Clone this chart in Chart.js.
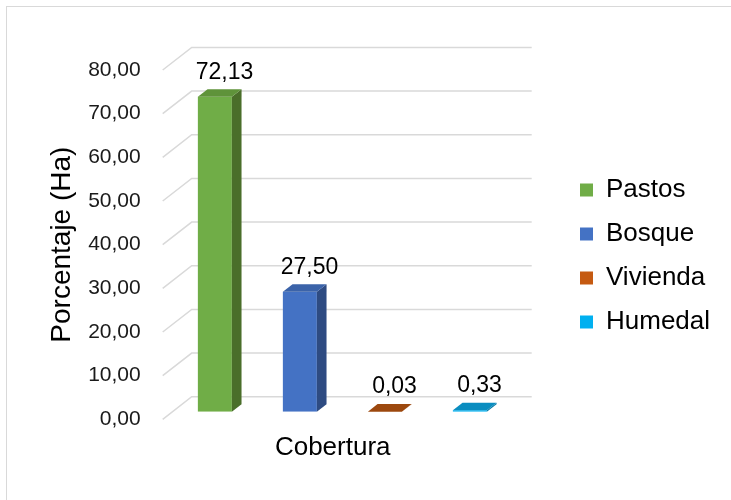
<!DOCTYPE html>
<html>
<head>
<meta charset="utf-8">
<script src="https://cdn.jsdelivr.net/npm/chart.js@4.4.1/dist/chart.umd.min.js"></script>
<style>
  body { margin: 0; overflow: hidden; background: #fff; }
  #frame { position: absolute; left: 6px; top: 6px; width: 900px; height: 700px; border: 1.5px solid #d9d9d9; }
  #wrap { position: absolute; left: 0; top: 0; width: 731px; height: 500px; }
</style>
</head>
<body>
<div id="frame"></div>
<div id="wrap"><canvas id="chart"></canvas></div>
<script>
// data
const categories = ['Pastos', 'Bosque', 'Vivienda', 'Humedal']
const values = [72.13, 27.50, 0.03, 0.33]
const yTicks = [0, 10, 20, 30, 40, 50, 60, 70, 80]

// colours for each bar: front, top, side
const frontColors = ['#70ad47', '#4472c4', '#c55a11', '#00b0f0']
const topColors = ['#5f933a', '#3b63a9', '#9c480e', '#0a8dc0']
const sideColors = ['#4a6e2a', '#2e4b82', '#7e3a0b', '#077aa6']

// depth of the 3d box (front plane -> back wall)
const DX = 29, DY = -22.6
const fmt = v => v.toFixed(2).replace('.', ',')
const FONT = '"Liberation Sans", Arial, sans-serif'

const box3d = {
  id: 'box3d',
  beforeDatasetsDraw(chart) {
    const {ctx, chartArea: a, scales: {y}} = chart
    ctx.save()
    ctx.strokeStyle = '#d9d9d9'
    ctx.lineWidth = 1.5
    yTicks.forEach(t => {
      const py = y.getPixelForValue(t)
      ctx.beginPath()
      ctx.moveTo(a.left, py)
      ctx.lineTo(a.left + DX, py + DY)
      ctx.lineTo(a.right + DX, py + DY)
      ctx.stroke()
    })
    ctx.restore()
    // bars stand a third of the way in
    ctx.save()
    ctx.translate(DX / 3, DY / 3)
  },
  afterDatasetsDraw(chart) {
    const {ctx} = chart
    const sdx = DX / 3, sdy = DY / 3
    chart.getDatasetMeta(0).data.forEach((bar, i) => {
      const {x, y, base, width} = bar.getProps(['x', 'y', 'base', 'width'], true)
      const x0 = x - width / 2, x1 = x + width / 2
      // side
      ctx.fillStyle = sideColors[i]
      ctx.beginPath()
      ctx.moveTo(x1, y)
      ctx.lineTo(x1 + sdx, y + sdy)
      ctx.lineTo(x1 + sdx, base + sdy)
      ctx.lineTo(x1, base)
      ctx.closePath()
      ctx.fill()
      // top
      ctx.fillStyle = topColors[i]
      ctx.beginPath()
      ctx.moveTo(x0, y)
      ctx.lineTo(x1, y)
      ctx.lineTo(x1 + sdx, y + sdy)
      ctx.lineTo(x0 + sdx, y + sdy)
      ctx.closePath()
      ctx.fill()
      // value label
      ctx.fillStyle = '#000'
      ctx.font = '23px ' + FONT
      ctx.textAlign = 'center'
      ctx.textBaseline = 'middle'
      ctx.fillText(fmt(values[i]), x + sdx, y + sdy - 17)
    })
    ctx.restore()
  }
}

new Chart(document.querySelector('#chart'), {
  type: 'bar',
  data: {
    labels: categories,
    datasets: [{
      label: 'Cobertura',
      data: values,
      backgroundColor: frontColors,
      borderWidth: 0,
      barPercentage: 0.4,
      categoryPercentage: 1.0
    }]
  },
  options: {
    responsive: true,
    maintainAspectRatio: false,
    animation: false,
    layout: { padding: { left: 40, top: 12, right: 11, bottom: 0 } },
    plugins: {
      tooltip: { enabled: false },
      legend: {
        position: 'right',
        maxWidth: 158,
        labels: {
          boxWidth: 13,
          boxHeight: 13,
          padding: 18,
          color: '#000',
          font: { family: FONT, size: 26 },
          generateLabels: () => categories.map((c, i) => ({
            text: c,
            fillStyle: frontColors[i],
            strokeStyle: frontColors[i],
            lineWidth: 0,
            hidden: false,
            index: i,
            datasetIndex: 0
          }))
        }
      }
    },
    scales: {
      x: {
        grid: { display: false, drawTicks: false },
        border: { display: false },
        ticks: { display: false },
        title: {
          display: true,
          text: 'Cobertura',
          color: '#000',
          font: { family: FONT, size: 26 },
          padding: { top: 0, bottom: 36.4 }
        },
        afterFit(s) { s.height = 80.7 }
      },
      xT: {
        position: 'top',
        grid: { display: false, drawTicks: false },
        border: { display: false },
        ticks: { display: false },
        afterFit(s) { s.height = 58 }
      },
      y: {
        min: 0,
        max: 80,
        grid: { display: false, drawTicks: false },
        border: { display: false },
        ticks: {
          stepSize: 10,
          padding: 22,
          color: '#1a1a1a',
          font: { family: FONT, size: 21 },
          callback: v => fmt(v)
        },
        title: {
          display: true,
          text: 'Porcentaje (Ha)',
          color: '#000',
          font: { family: FONT, size: 28 },
          padding: { top: 5, bottom: 0 }
        },
        afterFit(s) { s.width = 122.7 }
      },
      yR: {
        position: 'right',
        grid: { display: false, drawTicks: false },
        border: { display: false },
        ticks: { display: false },
        afterFit(s) { s.width = 59.3 }
      }
    }
  },
  plugins: [box3d]
})
</script>
</body>
</html>
